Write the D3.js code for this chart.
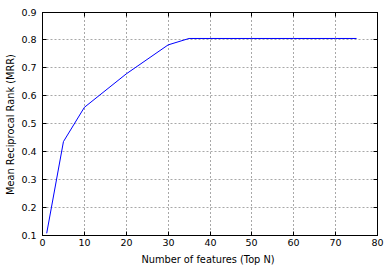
<!DOCTYPE html>
<html>
<head>
<meta charset="utf-8">
<script src="https://cdn.jsdelivr.net/npm/d3@7"></script>
<style>
  body { margin: 0; background: #fff; }
  text { font-family: "DejaVu Sans", sans-serif; fill: #000; }
</style>
</head>
<body>
<div id="chart"></div>
<script>
// top N features vs MRR
var topN = [1, 5, 10, 20, 30, 35, 40, 50, 60, 70, 75];
var mrr = [0.106, 0.435, 0.558, 0.678, 0.782, 0.805, 0.805, 0.805, 0.805, 0.805, 0.805];
var xTicks = [0, 10, 20, 30, 40, 50, 60, 70, 80];
var yTicks = [0.1, 0.2, 0.3, 0.4, 0.5, 0.6, 0.7, 0.8, 0.9];

var width = 390, height = 271;
var mLeft = 42.5, mRight = 377.5, mTop = 12, mBottom = 235;

var svg = d3.select("#chart").append("svg").attr("width", width).attr("height", height);

var x = d3.scaleLinear().domain([0, 80]).range([mLeft, mRight]);
var y = d3.scaleLinear().domain([0.1, 0.9]).range([mBottom, mTop]);

// snap to pixel centres so the dashed grid stays crisp
function snap(v) { return Math.floor(v) + 0.5; }

// grid
svg.selectAll(".vgrid").data(xTicks).enter().append("line")
    .attr("x1", function(d){ return snap(x(d)); }).attr("x2", function(d){ return snap(x(d)); })
    .attr("y1", mTop).attr("y2", mBottom)
    .attr("stroke", "#a8a8a8").attr("stroke-width", 1).attr("stroke-dasharray", "2,2");
svg.selectAll(".hgrid").data(yTicks).enter().append("line")
    .attr("x1", mLeft).attr("x2", mRight)
    .attr("y1", function(d){ return snap(y(d)); }).attr("y2", function(d){ return snap(y(d)); })
    .attr("stroke", "#a8a8a8").attr("stroke-width", 1).attr("stroke-dasharray", "2,2");

// line
var line = d3.line().x(function(d, i){ return x(topN[i]); }).y(function(d){ return y(d); });
svg.append("path").datum(mrr).attr("d", line)
    .attr("fill", "none").attr("stroke", "#0000ff").attr("stroke-width", 1);

// axes, ticks pointing inward like matplotlib classic
var xAxis = d3.axisBottom(x).tickValues(xTicks).tickSize(-4).tickPadding(4).tickFormat(d3.format("d"));
var yAxis = d3.axisLeft(y).tickValues(yTicks).tickSize(-4).tickPadding(6).tickFormat(d3.format(".1f"));
var xTop = d3.axisTop(x).tickValues(xTicks).tickSize(-4).tickFormat("");
var yRight = d3.axisRight(y).tickValues(yTicks).tickSize(-4).tickFormat("");

var gx = svg.append("g").attr("transform", "translate(0," + (mBottom + 0.5) + ")").call(xAxis);
var gy = svg.append("g").attr("transform", "translate(" + mLeft + ",0)").call(yAxis);
var gt = svg.append("g").attr("transform", "translate(0," + (mTop + 0.5) + ")").call(xTop);
var gr = svg.append("g").attr("transform", "translate(" + mRight + ",0)").call(yRight);

svg.selectAll(".domain").remove();
svg.selectAll(".tick line").attr("stroke", "#000");
gx.selectAll(".tick").attr("transform", function(d){ return "translate(" + snap(x(d)) + ",0)"; });
gt.selectAll(".tick").attr("transform", function(d){ return "translate(" + snap(x(d)) + ",0)"; });
gy.selectAll(".tick").attr("transform", function(d){ return "translate(0," + snap(y(d)) + ")"; });
gr.selectAll(".tick").attr("transform", function(d){ return "translate(0," + snap(y(d)) + ")"; });
gx.selectAll("text").attr("font-size", 9.5).attr("font-family", "DejaVu Sans");
gy.selectAll("text").attr("font-size", 9.5).attr("font-family", "DejaVu Sans");

svg.append("rect").attr("x", mLeft).attr("y", mTop + 0.5)
    .attr("width", mRight - mLeft).attr("height", mBottom - mTop)
    .attr("fill", "none").attr("stroke", "#000").attr("stroke-width", 1);

svg.append("text").attr("x", 208).attr("y", 263)
    .attr("text-anchor", "middle").attr("font-size", 9.8)
    .text("Number of features (Top N)");
svg.append("text").attr("transform", "translate(14," + ((mTop + mBottom) / 2 + 1) + ") rotate(-90)")
    .attr("text-anchor", "middle").attr("font-size", 9.8)
    .text("Mean Reciprocal Rank (MRR)");
</script>
</body>
</html>
